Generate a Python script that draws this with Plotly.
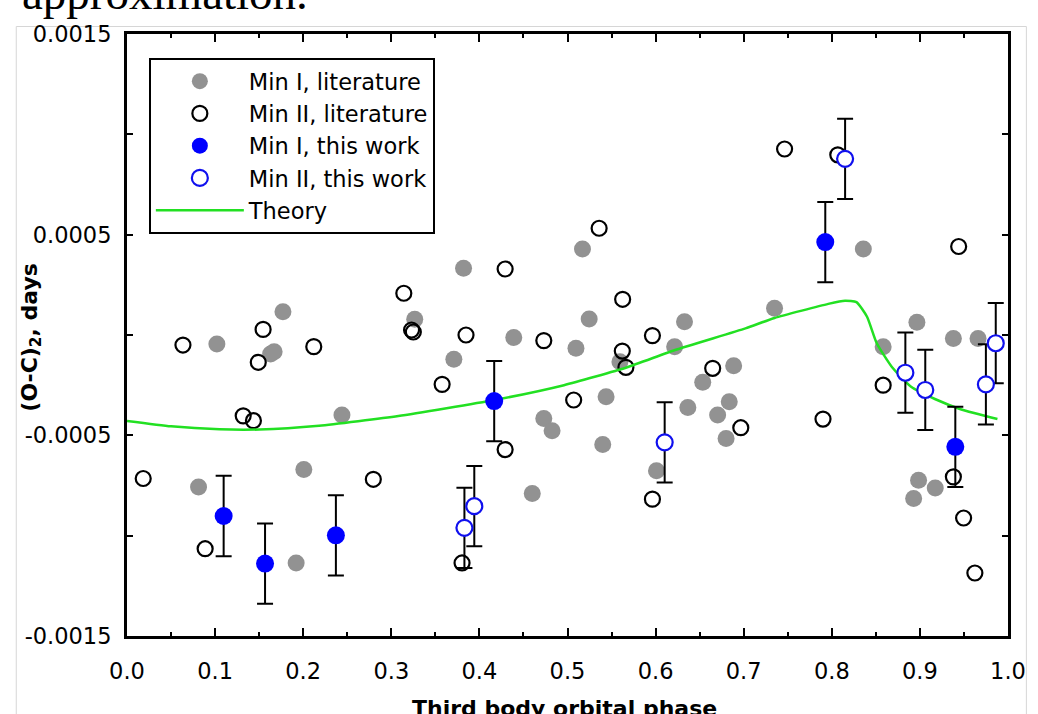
import plotly.graph_objects as go

# ---------------- data (phase, (O-C)2 in days) ----------------
lit1_phase = [0.102, 0.177, 0.163, 0.167, 0.244, 0.2007, 0.0812, 0.192, 0.382, 0.3266,
              0.371, 0.439, 0.517, 0.5246, 0.5096, 0.5595, 0.6328, 0.6216, 0.5438, 0.4731,
              0.4825, 0.540, 0.460, 0.601, 0.6366, 0.6535, 0.6886, 0.6836, 0.6704, 0.680,
              0.735, 0.8358, 0.8966, 0.8583, 0.938, 0.966, 0.8985, 0.9174, 0.8929]
lit1_oc = [-0.45e-4, 1.16e-4, -0.95e-4, -0.83e-4, -3.99e-4, -6.70e-4, -7.57e-4, -11.36e-4, 3.33e-4, 0.78e-4,
           -1.21e-4, -0.13e-4, 4.29e-4, 0.80e-4, -0.66e-4, -1.33e-4, 0.66e-4, -0.58e-4, -3.08e-4, -4.16e-4,
           -4.77e-4, -5.46e-4, -7.90e-4, -6.77e-4, -3.61e-4, -2.36e-4, -1.53e-4, -3.33e-4, -3.99e-4, -5.16e-4,
           1.33e-4, 4.29e-4, 0.63e-4, -0.58e-4, -0.17e-4, -0.17e-4, -7.24e-4, -7.62e-4, -8.15e-4]

lit2_phase = [0.0184, 0.0635, 0.0887, 0.1319, 0.1435, 0.149, 0.1545, 0.212, 0.2796, 0.3142,
              0.323, 0.325, 0.3848, 0.3577, 0.4292, 0.4731, 0.4292, 0.507, 0.5359, 0.5626,
              0.5622, 0.5663, 0.5964, 0.5964, 0.6648, 0.6967, 0.3803, 0.7464, 0.8068, 0.790,
              0.944, 0.8583, 0.938, 0.9496, 0.9624]
lit2_oc = [-7.15e-4, -0.50e-4, -10.65e-4, -4.03e-4, -4.27e-4, -1.36e-4, 0.28e-4, -0.58e-4, -7.19e-4, 2.08e-4,
           0.25e-4, 0.15e-4, 0.00e-4, -2.46e-4, 3.29e-4, -0.28e-4, -5.71e-4, -3.24e-4, 5.32e-4, 1.78e-4,
           -0.80e-4, -1.61e-4, -0.03e-4, -8.18e-4, -1.66e-4, -4.62e-4, -11.36e-4, 9.27e-4, 8.98e-4, -4.19e-4,
           4.41e-4, -2.50e-4, -7.07e-4, -9.12e-4, -11.86e-4]

tw1_phase = [0.1097, 0.1567, 0.2371, 0.4168, 0.7926, 0.9402]
tw1_oc = [-9.02e-4, -11.39e-4, -9.98e-4, -3.29e-4, 4.63e-4, -5.57e-4]
tw1_err = [2.0e-4, 2.0e-4, 2.0e-4, 2.0e-4, 2.0e-4, 2.0e-4]

tw2_phase = [0.383, 0.3942, 0.6103, 0.8151, 0.8835, 0.9061, 0.9749, 0.9861]
tw2_oc = [-9.61e-4, -8.53e-4, -5.35e-4, 8.78e-4, -1.88e-4, -2.74e-4, -2.46e-4, -0.41e-4]
tw2_err = [2.0e-4, 2.0e-4, 2.0e-4, 2.0e-4, 2.0e-4, 2.0e-4, 2.0e-4, 2.0e-4]

theory_phase = [0.000, 0.050, 0.105, 0.150, 0.218, 0.308, 0.417, 0.496, 0.567, 0.622,
                0.702, 0.735, 0.796, 0.815, 0.828, 0.840, 0.851, 0.868, 0.890,
                0.917, 0.947, 0.988]
theory_oc = [-4.28e-4, -4.55e-4, -4.70e-4, -4.71e-4, -4.52e-4, -4.04e-4, -3.24e-4, -2.50e-4, -1.62e-4, -0.75e-4,
             0.33e-4, 0.85e-4, 1.55e-4, 1.71e-4, 1.64e-4, 0.91e-4, -0.41e-4, -1.58e-4, -2.58e-4,
             -3.19e-4, -3.71e-4, -4.19e-4]

x_tickvals = [0.0, 0.1, 0.2, 0.3, 0.4, 0.5, 0.6, 0.7, 0.8, 0.9, 1.0]
x_ticktext = ["0.0", "0.1", "0.2", "0.3", "0.4", "0.5", "0.6", "0.7", "0.8", "0.9", "1.0"]
y_tickvals = [-0.0015, -0.001, -0.0005, 0.0, 0.0005, 0.001, 0.0015]
y_ticktext = ["-0.0015", "", "-0.0005", "", "0.0005", "", "0.0015"]

# ---------------- figure ----------------
W, H = 1038, 714
ML, MR, MT, MB = 127, 24, 34, 78
PW, PH = W - ML - MR, H - MT - MB


def px2paper_x(px):
    return (px - ML) / PW


def px2paper_y(py):
    return (H - MB - py) / PH


FONT = "DejaVu Sans"

fig = go.Figure()

fig.add_trace(go.Scatter(
    x=lit1_phase, y=lit1_oc, mode="markers", name="Min I, literature",
    legendgroup="a", legendrank=1,
    marker=dict(symbol="circle", size=17, color="#929292", line=dict(width=0)),
))
fig.add_trace(go.Scatter(
    x=lit2_phase, y=lit2_oc, mode="markers", name="Min II, literature",
    legendgroup="b", legendrank=2,
    marker=dict(symbol="circle-open", size=15, color="black", line=dict(width=2.2, color="black")),
))
fig.add_trace(go.Scatter(
    x=theory_phase, y=theory_oc, mode="lines", name="Theory",
    legendgroup="e", legendrank=5,
    line=dict(color="#22e022", width=2.5, shape="spline", smoothing=0.5),
))
fig.add_trace(go.Scatter(
    x=tw1_phase, y=tw1_oc, mode="markers", name="Min I, this work",
    legendgroup="c", legendrank=3,
    error_y=dict(type="data", array=tw1_err, visible=True, color="black", thickness=2, width=8),
    marker=dict(symbol="circle", size=18, color="#0000ff", line=dict(width=0)),
))
fig.add_trace(go.Scatter(
    x=tw2_phase, y=tw2_oc, mode="markers", name="Min II, this work",
    legendgroup="d", legendrank=4,
    error_y=dict(type="data", array=tw2_err, visible=True, color="black", thickness=2, width=8),
    marker=dict(symbol="circle", size=16, color="white", line=dict(width=2.2, color="#1010ee")),
))

fig.update_layout(
    width=W, height=H,
    margin=dict(l=ML, r=MR, t=MT, b=MB, pad=0),
    paper_bgcolor="white", plot_bgcolor="white",
    font=dict(family=FONT, size=22, color="black"),
    showlegend=True,
    legend=dict(
        x=px2paper_x(149), y=px2paper_y(58), xanchor="left", yanchor="top",
        bgcolor="white", bordercolor="black", borderwidth=2,
        font=dict(family=FONT, size=22.5, color="black"),
        tracegroupgap=5, itemwidth=88, traceorder="normal",
    ),
    xaxis=dict(
        range=[0, 1], tickvals=x_tickvals, ticktext=x_ticktext,
        ticks="inside", ticklen=8, tickwidth=2, tickcolor="black",
        minor=dict(dtick=0.05, tick0=0, ticks="inside", ticklen=4, tickwidth=2, tickcolor="black"),
        showline=True, linecolor="black", linewidth=3, mirror="ticks",
        showgrid=False, zeroline=False,
        tickfont=dict(family=FONT, size=22.5), ticklabelstandoff=13,
    ),
    yaxis=dict(
        range=[-0.0015, 0.0015], tickvals=y_tickvals, ticktext=y_ticktext,
        ticks="inside", ticklen=6, tickwidth=2, tickcolor="black",
        showline=True, linecolor="black", linewidth=3, mirror="ticks",
        showgrid=False, zeroline=False,
        tickfont=dict(family=FONT, size=22.5), ticklabelstandoff=8,
    ),
)

# axis titles
fig.add_annotation(
    text="<b>(O-C)<sub>2</sub>, days</b>", xref="paper", yref="paper",
    x=px2paper_x(30), y=px2paper_y(337), xanchor="center", yanchor="middle",
    textangle=-90, showarrow=False, font=dict(family=FONT, size=22, color="black"),
)
fig.add_annotation(
    text="<b>Third body orbital phase</b>", xref="paper", yref="paper",
    x=px2paper_x(567), y=px2paper_y(694), xanchor="center", yanchor="top",
    showarrow=False, font=dict(family=FONT, size=22, color="black"),
)
# cut-off caption text above the figure
fig.add_annotation(
    text="approximation.", xref="paper", yref="paper",
    x=px2paper_x(19), y=px2paper_y(21), xanchor="left", yanchor="bottom",
    showarrow=False, font=dict(family="Liberation Serif", size=47, color="black"),
)
# light page frame
fig.add_shape(
    type="rect", xref="paper", yref="paper",
    x0=px2paper_x(15.5), x1=px2paper_x(1032.5), y0=px2paper_y(760), y1=px2paper_y(26.5),
    line=dict(color="#d6d6d6", width=1), fillcolor="rgba(0,0,0,0)", layer="below",
)

fig.write_html("out.html")
